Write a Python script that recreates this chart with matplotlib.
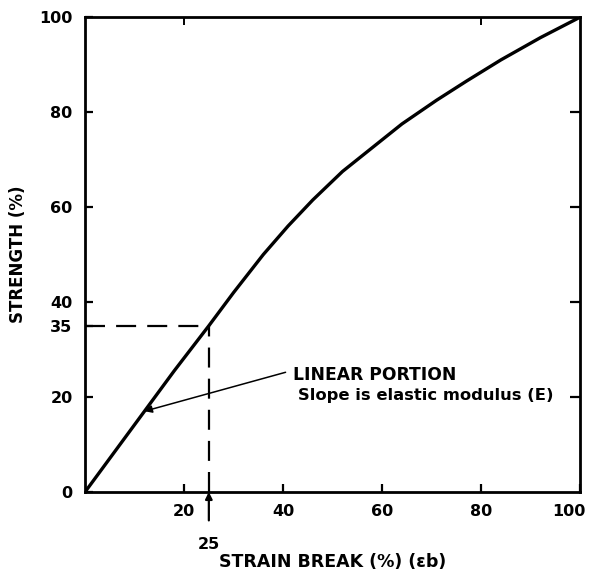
import matplotlib
matplotlib.use("Agg")
import matplotlib.pyplot as plt
import matplotlib.transforms as mtransforms

# Stress-strain style curve: strength (%) vs strain at break (%)
strain = [0, 12, 18, 25, 30, 36, 41, 46, 52, 58, 64, 71, 77, 84, 92, 100]
strength = [0, 17, 25.5, 35, 42, 50, 56, 61.5, 67.5, 72.5, 77.5, 82.5, 86.5, 91, 95.7, 100]

x_ticks = [20, 40, 60, 80, 100]
y_ticks = [0, 20, 35, 40, 60, 80, 100]
top_ticks = [20, 80]
right_ticks = [20, 40, 60, 80]

marked_strain = 25
marked_strength = 35
arrow_tip = (12, 17)

plt.rcParams['font.family'] = ['DejaVu Sans']

fig = plt.figure(figsize=(5.95, 5.72), dpi=100)
ax = fig.add_axes([0.143, 0.14, 0.832, 0.830])

ax.plot(strain, strength, color='black', lw=2.4, solid_capstyle='round',
        solid_joinstyle='round', zorder=3)

# dashed guide lines to the marked point
ax.plot([0, marked_strain], [marked_strength, marked_strength], color='black',
        lw=1.6, dashes=(9, 5), zorder=2)
ax.plot([marked_strain, marked_strain], [0, marked_strength], color='black',
        lw=1.6, dashes=(9, 5), zorder=2)

# arrow from below pointing to the strain value
ax.annotate('', xy=(marked_strain, 0), xytext=(marked_strain, -6),
            arrowprops=dict(arrowstyle='-|>', color='black', lw=1.6,
                            mutation_scale=10, shrinkA=0, shrinkB=0),
            annotation_clip=False)
ax.text(marked_strain, -11, f'{marked_strain}', ha='center', va='center',
        fontsize=11.5, fontweight='bold', clip_on=False)

# annotation for the linear part of the curve
ax.annotate('', xy=arrow_tip, xytext=(40.5, 25.2),
            arrowprops=dict(arrowstyle='-|>', color='black', lw=1.1,
                            mutation_scale=11, shrinkA=0, shrinkB=0))
ax.text(42, 24.6, 'LINEAR PORTION', ha='left', va='center',
        fontsize=12.3, fontweight='bold')
ax.text(43, 20.4, 'Slope is elastic modulus (E)', ha='left', va='center',
        fontsize=11.8, fontweight='bold')

ax.set_xlim(0, 100)
ax.set_ylim(0, 100)
ax.set_xticks(x_ticks)
ax.set_xticklabels([str(v) for v in x_ticks], fontsize=11.5, fontweight='bold')
ax.set_yticks(y_ticks)
ax.set_yticklabels([str(v) for v in y_ticks], fontsize=11.5, fontweight='bold')
ax.tick_params(axis='both', direction='in', length=6, width=1.6, pad=9)

# keep the last x label inside the figure edge
last = ax.get_xticklabels()[-1]
last.set_transform(last.get_transform() +
                   mtransforms.ScaledTranslation(-8 / 72, 0, fig.dpi_scale_trans))

sec_top = ax.secondary_xaxis('top')
sec_top.set_xticks(top_ticks)
sec_top.set_xticklabels([])
sec_top.tick_params(direction='in', length=6, width=1.4)
sec_top.spines['top'].set_visible(False)

sec_right = ax.secondary_yaxis('right')
sec_right.set_yticks(right_ticks)
sec_right.set_yticklabels([])
sec_right.tick_params(direction='in', length=7, width=1.6)
sec_right.spines['right'].set_visible(False)

for s in ax.spines.values():
    s.set_linewidth(2.0)

ax.set_xlabel('STRAIN BREAK (%) (εb)', fontsize=12.5, fontweight='bold', labelpad=24)
ax.set_ylabel('STRENGTH (%)', fontsize=12, fontweight='bold', labelpad=9)

fig.savefig('out.png', dpi=100, facecolor='white')
